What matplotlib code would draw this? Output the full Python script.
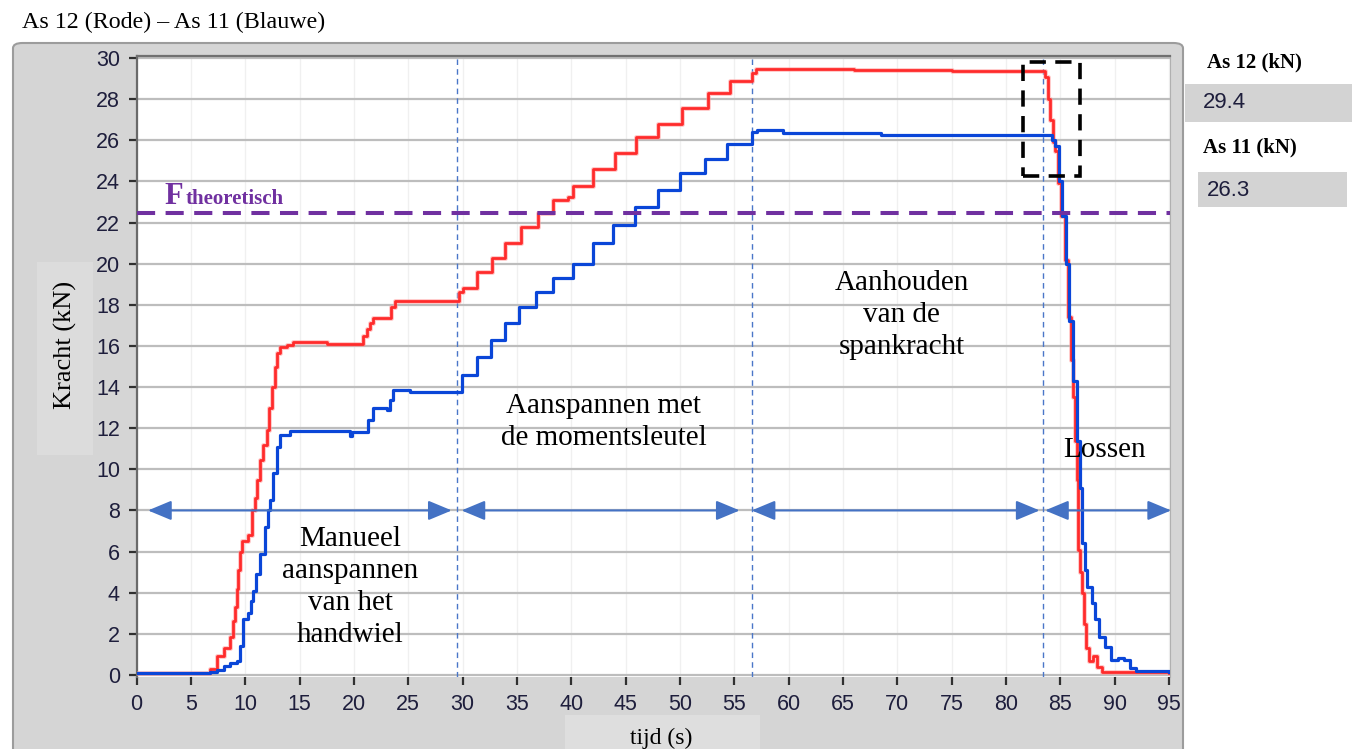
import matplotlib
matplotlib.use('Agg')
import matplotlib.pyplot as plt
from matplotlib.patches import FancyBboxPatch, Rectangle
import numpy as np

W, H = 1358, 749

# ---- data (time in s, force in kN) ----
# As 12 (red), held until next time (steps)
red_t = [0, 6.8, 7.4, 8.0, 8.6, 8.9, 9.05, 9.2, 9.3, 9.5, 9.7, 10.25, 10.6, 10.9,
         11.1, 11.35, 11.6, 12.0, 12.2, 12.45, 12.7, 12.9, 13.2, 13.8, 14.4, 17.5,
         20.8, 21.2, 21.5, 21.8, 23.4, 23.8, 29.7, 30.0, 31.3, 32.7, 33.9, 35.4,
         36.9, 38.3, 39.7, 40.2, 42.0, 44.0, 46.0, 48.0, 50.2, 52.6, 54.6, 56.6,
         57.0, 66.0, 75.0, 83.6, 83.9, 84.1, 84.3, 84.5, 84.8, 85.1, 85.4, 85.7,
         86.0, 86.2, 86.4, 86.5, 86.6, 86.8, 87.0, 87.2, 87.4, 87.6, 88.0, 88.4,
         88.8, 95.0]
red_f = [0.1, 0.3, 0.9, 1.3, 1.85, 2.6, 3.3, 4.2, 5.1, 6.0, 6.5, 6.8, 8.0, 8.6,
         9.5, 10.45, 11.2, 11.9, 13.0, 14.0, 15.0, 15.65, 15.95, 16.05, 16.2, 16.1,
         16.5, 16.8, 17.1, 17.35, 17.9, 18.2, 18.6, 18.8, 19.6, 20.3, 21.0, 21.8,
         22.45, 23.1, 23.25, 23.8, 24.6, 25.4, 26.15, 26.8, 27.55, 28.3, 28.9, 29.25,
         29.45, 29.4, 29.35, 29.1, 28.0, 27.0, 25.9, 25.5, 23.9, 22.3, 20.2, 17.4,
         15.3, 13.5, 11.4, 9.5, 6.1, 5.0, 4.0, 2.5, 1.3, 0.7, 0.9, 0.4,
         0.15, 0.1]

# As 11 (blue)
blue_t = [0, 6.8, 7.4, 8.0, 8.6, 9.2, 9.5, 9.8, 10.25, 10.5, 10.7, 11.0, 11.4,
          11.8, 12.1, 12.3, 12.55, 12.9, 13.2, 14.1, 19.6, 19.8, 21.3, 21.8, 23.0,
          23.3, 23.6, 25.2, 29.9, 31.3, 32.6, 33.9, 35.2, 36.8, 38.3, 40.2, 42.0,
          43.8, 45.9, 48.0, 50.0, 52.3, 54.3, 56.6, 57.1, 59.5, 68.5, 84.2, 84.5,
          84.9, 85.2, 85.5, 85.8, 86.2, 86.5, 86.8, 87.0, 87.3, 87.5, 87.9, 88.2,
          88.6, 89.1, 89.7, 90.3, 90.9, 91.4, 92.0, 95.0]
blue_f = [0.1, 0.15, 0.25, 0.45, 0.6, 0.7, 1.4, 2.7, 3.0, 3.6, 4.1, 4.9, 5.9,
          7.2, 8.0, 8.5, 9.8, 11.1, 11.65, 11.85, 11.6, 11.8, 12.4, 13.0, 12.9,
          13.35, 13.85, 13.75, 14.6, 15.45, 16.3, 17.1, 17.9, 18.6, 19.3, 20.0, 21.0,
          21.9, 22.75, 23.6, 24.4, 25.1, 25.8, 26.4, 26.5, 26.35, 26.25, 26.0, 25.7,
          24.0, 22.3, 20.0, 17.2, 14.3, 11.4, 9.1, 6.4, 5.1, 4.3, 3.5, 2.7,
          1.85, 1.35, 0.73, 0.83, 0.73, 0.34, 0.2, 0.15]

f_theoretisch = 22.45
phase_lines = [29.5, 56.6, 83.4]
arrow_level = 8
arrow_spans = [(1.05, 29.0), (29.9, 55.5), (56.6, 83.1), (83.6, 95.2)]
zoom_box = (81.55, 24.26, 86.8, 29.8)   # t0, f0, t1, f1
x_ticks = list(range(0, 96, 5))
y_ticks = list(range(0, 31, 2))
last_as12 = "29.4"
last_as11 = "26.3"

phase_texts = ["Manueel\naanspannen\nvan het\nhandwiel",
               "Aanspannen met\nde momentsleutel",
               "Aanhouden\nvan de\nspankracht",
               "Lossen"]
phase_text_pos = [(19.67, 4.28), (43.0, 12.3), (70.4, 17.5), (89.1, 10.95)]

serif = ['Liberation Serif', 'DejaVu Serif']
narrow = ['Liberation Sans Narrow', 'Liberation Sans', 'DejaVu Sans']
tick_col = '#1e1e3c'


def fx(x):
    return x / W


def fy(y):
    return 1 - y / H


def fig_rect(x0, y0, x1, y1, **kw):
    # rectangle given in picture pixels (y down), drawn behind the axes
    r = Rectangle((fx(x0), fy(y1)), fx(x1) - fx(x0), fy(y0) - fy(y1),
                  transform=fig.transFigure, zorder=-1, **kw)
    fig.patches.append(r)
    return r


fig = plt.figure(figsize=(W / 100, H / 100), dpi=100)

# LabVIEW-like grey panel
panel = FancyBboxPatch((fx(13), fy(770)), fx(1183) - fx(13), fy(43) - fy(770),
                       boxstyle='round,pad=0,rounding_size=0.007',
                       transform=fig.transFigure, fc='#d5d5d5', ec='#9c9c9c', lw=1.5,
                       zorder=-2)
fig.patches.append(panel)
fig_rect(37, 262, 93, 455, fc='#dcdcdc', ec='none')
fig_rect(565, 715, 760, 749, fc='#dedede', ec='none')

# value indicators on the right
fig_rect(1185, 84, 1352, 122, fc='#d3d3d3', ec='none')
fig_rect(1198, 172, 1347, 207, fc='#d3d3d3', ec='none')

ax = fig.add_axes([fx(136.6), fy(677), fx(1170) - fx(136.6), fy(56) - fy(677)])
ax.set_zorder(1)
ax.set_facecolor('white')
ax.set_xlim(0, 95.1)
ax.set_ylim(-0.1, 30.1)
ax.set_xticks(x_ticks)
ax.set_yticks(y_ticks)
ax.tick_params(direction='out', length=6, width=1.6, color='#303030',
               labelsize=15.5, labelcolor=tick_col, pad=6)
for lab in ax.get_xticklabels() + ax.get_yticklabels():
    lab.set_family(narrow)
ax.yaxis.grid(True, color='#bdbdbd', lw=1.6)
ax.xaxis.grid(True, color='#f0f0f0', lw=1.0)
ax.set_axisbelow(True)
ax.spines['bottom'].set_visible(False)
ax.spines['left'].set_color('#6a6a6a')
ax.spines['left'].set_linewidth(1.6)
ax.spines['top'].set_color('#707070')
ax.spines['top'].set_linewidth(1.6)
ax.spines['right'].set_color('#b0b0b0')

# curves
ax.plot(red_t, red_f, drawstyle='steps-post', color='#ff9a9a', lw=3.6, alpha=0.5, zorder=3)
ax.plot(red_t, red_f, drawstyle='steps-post', color='#ff2b2b', lw=2.0, zorder=3)
ax.plot(blue_t, blue_f, drawstyle='steps-post', color='#0a46d8', lw=2.3, zorder=4)

# phase separators and arrows
for t in phase_lines:
    ax.axvline(t, color='#4a76c8', lw=1.0, ls=(0, (4, 3)), zorder=2)
for t0, t1 in arrow_spans:
    ax.annotate('', xy=(t1, arrow_level), xytext=(t0, arrow_level),
                arrowprops=dict(arrowstyle='<|-|>,head_length=0.6,head_width=0.25',
                                color='#4472c4', lw=1.5, mutation_scale=24,
                                shrinkA=0, shrinkB=0),
                annotation_clip=False, zorder=5)

# theoretical force
ax.axhline(f_theoretisch, color='#7030a0', lw=2.9, ls=(0, (4.5, 2.6)), zorder=5)
ax.text(2.6, 22.9, 'F', color='#7030a0', fontsize=22, fontweight='bold',
        family=serif, va='baseline', ha='left')
ax.text(4.55, 22.9, 'theoretisch', color='#7030a0', fontsize=15, fontweight='bold',
        family=serif, va='baseline', ha='left')

# dashed box around the release point
bx0, by0, bx1, by1 = zoom_box
ax.add_patch(Rectangle((bx0, by0), bx1 - bx0, by1 - by0, fill=False, ec='black',
                       lw=2.6, ls=(0, (4.5, 2.6)), zorder=6))

for txt, (t, f) in zip(phase_texts, phase_text_pos):
    ax.text(t, f, txt, fontsize=21, family=serif, ha='center', va='center',
            linespacing=1.3, zorder=7)

# labels and title
fig.text(fx(22), fy(22), 'As 12 (Rode) \u2013 As 11 (Blauwe)', fontsize=17.3,
         family=serif, ha='left', va='center')
fig.text(fx(65), fy(345), 'Kracht (kN)', fontsize=19, family=serif,
         rotation=90, ha='center', va='center')
fig.text(fx(661), fy(738), 'tijd (s)', fontsize=17, family=serif,
         ha='center', va='center')

fig.text(fx(1207), fy(62), 'As 12 (kN)', fontsize=15, fontweight='bold',
         family=serif, ha='left', va='center')
fig.text(fx(1203), fy(147), 'As 11 (kN)', fontsize=15, fontweight='bold',
         family=serif, ha='left', va='center')
fig.text(fx(1203), fy(103), last_as12, fontsize=16, family=narrow, color=tick_col,
         ha='left', va='center')
fig.text(fx(1207), fy(190), last_as11, fontsize=16, family=narrow, color=tick_col,
         ha='left', va='center')

fig.savefig('out.png', dpi=100)
